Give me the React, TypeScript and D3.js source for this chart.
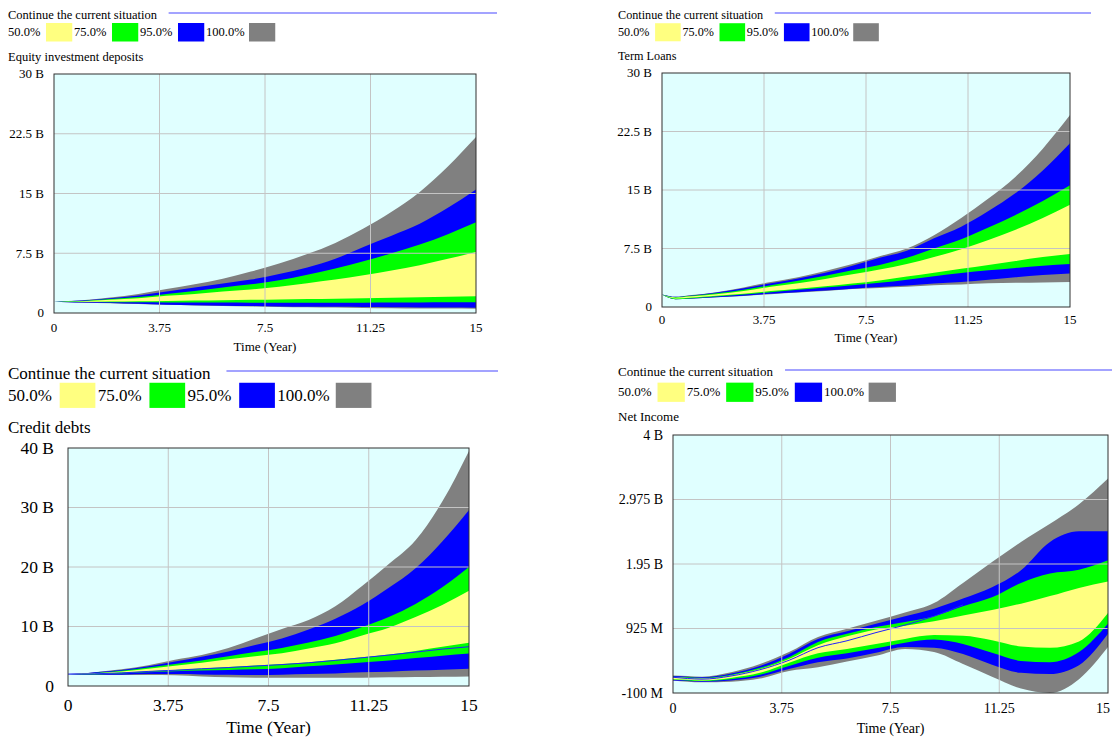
import React, { useEffect, useRef } from 'react';
import * as d3 from 'd3';

const width = 1112;
const height = 738;

const years = [0, 0.5, 1, 2, 3, 4, 5, 6, 7, 8, 9, 10, 11, 12, 13, 14, 15];
const xTicks = [0, 3.75, 7.5, 11.25, 15];
const scenarioName = "Continue the current situation";
const bandLabels = ["50.0%", "75.0%", "95.0%", "100.0%"];
const bandColors = ["#ffff80", "#00ff00", "#0000ff", "#808080"];

// Equity investment deposits (B)
const eqGrayHi = [1.4, 1.5, 1.6, 1.95, 2.4, 3.0, 3.6, 4.3, 5.2, 6.2, 7.4, 8.8, 10.6, 12.7, 15.2, 18.4, 22.1];
const eqBlueHi = [1.4, 1.48, 1.56, 1.85, 2.2, 2.7, 3.2, 3.7, 4.2, 4.9, 5.7, 6.8, 8.3, 9.7, 11.2, 13.2, 15.5];
const eqGreenHi = [1.4, 1.46, 1.52, 1.75, 2.0, 2.4, 2.75, 3.2, 3.6, 4.1, 4.8, 5.6, 6.5, 7.5, 8.6, 9.9, 11.4];
const eqYellowHi = [1.4, 1.44, 1.48, 1.65, 1.85, 2.15, 2.4, 2.7, 2.95, 3.3, 3.75, 4.2, 4.75, 5.35, 6.0, 6.8, 7.65];
const eqYellowLo = [1.4, 1.41, 1.42, 1.45, 1.48, 1.52, 1.56, 1.6, 1.65, 1.7, 1.75, 1.8, 1.85, 1.9, 1.97, 2.03, 2.1];
const eqGreenLo = [1.4, 1.39, 1.38, 1.36, 1.34, 1.33, 1.32, 1.31, 1.3, 1.3, 1.3, 1.3, 1.3, 1.31, 1.32, 1.34, 1.35];
const eqBlueLo = [1.4, 1.36, 1.32, 1.25, 1.15, 1.05, 0.98, 0.92, 0.87, 0.83, 0.8, 0.77, 0.74, 0.72, 0.7, 0.68, 0.66];
const eqGrayLo = [1.4, 1.35, 1.3, 1.22, 1.12, 1.02, 0.94, 0.88, 0.82, 0.76, 0.72, 0.68, 0.64, 0.6, 0.57, 0.55, 0.53];

// Term Loans (B)
const tlGrayHi = [1.6, 1.3, 1.5, 1.9, 2.5, 3.2, 3.8, 4.6, 5.5, 6.5, 7.5, 9.2, 11.4, 13.9, 16.7, 20.3, 24.6];
const tlBlueHi = [1.6, 1.3, 1.45, 1.85, 2.4, 3.05, 3.65, 4.4, 5.3, 6.3, 7.2, 8.8, 10.3, 12.3, 14.6, 17.5, 21.0];
const tlGreenHi = [1.6, 1.25, 1.4, 1.75, 2.2, 2.8, 3.35, 4.0, 4.7, 5.4, 6.3, 7.5, 8.7, 10.2, 11.8, 13.6, 15.6];
const tlYellowHi = [1.6, 1.2, 1.35, 1.65, 2.05, 2.6, 3.05, 3.6, 4.2, 4.8, 5.5, 6.4, 7.4, 8.6, 9.9, 11.4, 13.1];
const tlYellowLo = [1.6, 1.1, 1.2, 1.45, 1.7, 2.05, 2.35, 2.65, 3.0, 3.4, 3.9, 4.4, 4.9, 5.4, 5.9, 6.4, 6.8];
const tlGreenLo = [1.6, 1.0, 1.1, 1.35, 1.6, 1.9, 2.2, 2.5, 2.8, 3.1, 3.5, 3.95, 4.35, 4.7, 5.0, 5.3, 5.5];
const tlBlueLo = [1.6, 1.0, 1.05, 1.25, 1.45, 1.7, 1.9, 2.1, 2.35, 2.55, 2.75, 3.0, 3.2, 3.5, 3.8, 4.1, 4.3];
const tlGrayLo = [1.6, 1.0, 1.05, 1.25, 1.42, 1.65, 1.85, 2.05, 2.3, 2.45, 2.6, 2.8, 2.9, 3.05, 3.1, 3.15, 3.2];

// Credit debts (B)
const cdGrayHi = [2.0, 2.1, 2.3, 2.8, 3.5, 4.4, 5.2, 6.4, 8.0, 9.6, 11.1, 13.4, 16.8, 20.5, 24.5, 31.0, 39.5];
const cdBlueHi = [2.0, 2.1, 2.3, 2.7, 3.3, 4.1, 4.9, 5.8, 6.9, 8.0, 9.5, 11.3, 13.6, 16.5, 19.8, 24.3, 29.6];
const cdGreenHi = [2.0, 2.05, 2.2, 2.55, 3.1, 3.7, 4.3, 5.0, 5.7, 6.4, 7.3, 8.4, 9.9, 11.6, 13.8, 16.6, 20.0];
const cdYellowHi = [2.0, 2.05, 2.15, 2.45, 2.9, 3.4, 3.9, 4.5, 5.0, 5.5, 6.3, 7.2, 8.5, 9.8, 11.6, 13.6, 16.0];
const cdYellowLo = [2.0, 2.0, 2.05, 2.25, 2.5, 2.7, 2.95, 3.2, 3.45, 3.7, 4.0, 4.4, 4.85, 5.3, 5.9, 6.6, 7.25];
const cdGreenLo = [2.0, 1.95, 1.95, 2.1, 2.3, 2.5, 2.6, 2.7, 2.8, 3.0, 3.3, 3.6, 3.95, 4.3, 4.7, 5.1, 5.45];
const cdBlueLo = [2.0, 1.95, 1.9, 1.9, 2.0, 2.0, 1.95, 1.9, 1.85, 1.9, 2.0, 2.1, 2.3, 2.4, 2.6, 2.75, 2.9];
const cdGrayLo = [2.0, 1.95, 1.9, 1.85, 1.85, 1.8, 1.6, 1.45, 1.4, 1.4, 1.4, 1.4, 1.4, 1.45, 1.5, 1.55, 1.6];
const cdBase = [2.0, 2.0, 2.05, 2.2, 2.45, 2.65, 2.9, 3.1, 3.35, 3.6, 3.9, 4.3, 4.75, 5.2, 5.7, 6.2, 6.6];

// Net Income (B)
const niGrayHi = [0.18, 0.17, 0.16, 0.23, 0.36, 0.55, 0.79, 0.92, 1.05, 1.18, 1.33, 1.65, 1.98, 2.3, 2.59, 2.9, 3.31];
const niBlueHi = [0.17, 0.16, 0.15, 0.21, 0.33, 0.52, 0.76, 0.88, 1.0, 1.12, 1.24, 1.4, 1.58, 1.85, 2.3, 2.47, 2.47];
const niGreenHi = [0.16, 0.15, 0.14, 0.19, 0.3, 0.47, 0.71, 0.84, 0.95, 1.03, 1.12, 1.28, 1.42, 1.65, 1.8, 1.86, 2.01];
const niYellowHi = [0.15, 0.14, 0.13, 0.18, 0.28, 0.44, 0.66, 0.8, 0.91, 0.97, 1.04, 1.13, 1.22, 1.32, 1.44, 1.57, 1.67];
const niYellowLo = [0.12, 0.11, 0.1, 0.14, 0.22, 0.38, 0.53, 0.6, 0.68, 0.76, 0.82, 0.81, 0.74, 0.64, 0.62, 0.72, 1.17];
const niGreenLo = [0.11, 0.1, 0.09, 0.12, 0.19, 0.33, 0.46, 0.53, 0.61, 0.7, 0.75, 0.68, 0.54, 0.41, 0.39, 0.55, 1.0];
const niBlueLo = [0.1, 0.09, 0.08, 0.1, 0.16, 0.28, 0.39, 0.45, 0.54, 0.63, 0.62, 0.52, 0.35, 0.22, 0.2, 0.34, 0.84];
const niGrayLo = [0.1, 0.08, 0.07, 0.08, 0.13, 0.25, 0.31, 0.4, 0.49, 0.6, 0.55, 0.36, 0.16, -0.03, -0.1, 0.12, 0.63];
// base run is only visible up to year 10 (then it runs inside the blue band)
const niBase = [0.15, 0.13, 0.12, 0.17, 0.27, 0.42, 0.62, 0.73, 0.86, 0.98, 1.12, 1.3];

const bTicks = [0, 7.5, 15, 22.5, 30];
const bTickLabels = ["0", "7.5 B", "15 B", "22.5 B", "30 B"];
const cdTicks = [0, 10, 20, 30, 40];
const cdTickLabels = ["0", "10 B", "20 B", "30 B", "40 B"];
const niTicks = [-0.1, 0.925, 1.95, 2.975, 4];
const niTickLabels = ["-100 M", "925 M", "1.95 B", "2.975 B", "4 B"];

const panels = [
    {
        title: "Equity investment deposits", x0: 8, leg1: 15, leg2: 32, titleY: 57, lineEnd: 497,
        plot: {l: 54, r: 476, t: 74, b: 313}, xLab: 328, timeY: 347, tickFs: 13, legFs: 12.5,
        domain: [0, 30], ticks: bTicks, tickLabels: bTickLabels,
        bands: [[eqYellowLo, eqYellowHi], [eqGreenLo, eqGreenHi], [eqBlueLo, eqBlueHi], [eqGrayLo, eqGrayHi]],
        base: null
    },
    {
        title: "Term Loans", x0: 618, leg1: 15, leg2: 32, titleY: 55.5, lineEnd: 1091,
        plot: {l: 662, r: 1070, t: 73, b: 307}, xLab: 320, timeY: 338, tickFs: 13, legFs: 12.2,
        domain: [0, 30], ticks: bTicks, tickLabels: bTickLabels,
        bands: [[tlYellowLo, tlYellowHi], [tlGreenLo, tlGreenHi], [tlBlueLo, tlBlueHi], [tlGrayLo, tlGrayHi]],
        base: null
    },
    {
        title: "Credit debts", x0: 8, leg1: 373, leg2: 395, titleY: 427, lineEnd: 498,
        plot: {l: 68, r: 469, t: 448, b: 686}, xLab: 705, timeY: 727, tickFs: 17.5, legFs: 17,
        domain: [0, 40], ticks: cdTicks, tickLabels: cdTickLabels,
        bands: [[cdYellowLo, cdYellowHi], [cdGreenLo, cdGreenHi], [cdBlueLo, cdBlueHi], [cdGrayLo, cdGrayHi]],
        base: cdBase
    },
    {
        title: "Net Income", x0: 618, leg1: 372, leg2: 392, titleY: 417, lineEnd: 1112,
        plot: {l: 673, r: 1108, t: 435, b: 693}, xLab: 708, timeY: 728, tickFs: 14, legFs: 13,
        domain: [-0.1, 4], ticks: niTicks, tickLabels: niTickLabels,
        bands: [[niYellowLo, niYellowHi], [niGreenLo, niGreenHi], [niBlueLo, niBlueHi], [niGrayLo, niGrayHi]],
        base: niBase
    }
];

const App = () => {
    const ref = useRef(null);

    useEffect(() => {
        const svg = d3.select(ref.current);
        svg.selectAll("*").remove();

        panels.forEach((p, pi) => {
            const g = svg.append("g");
            const fs = p.legFs;
            const x = d3.scaleLinear().domain([0, 15]).range([p.plot.l, p.plot.r]);
            const y = d3.scaleLinear().domain(p.domain).range([p.plot.b, p.plot.t]);

            // legend
            g.append("text")
                .attr("x", p.x0).attr("y", p.leg1).attr("dy", "0.33em")
                .style("font-size", fs + "px")
                .text(scenarioName);
            g.append("line")
                .attr("x1", p.x0 + 12.85 * fs).attr("x2", p.lineEnd)
                .attr("y1", p.leg1 - 2).attr("y2", p.leg1 - 2)
                .attr("stroke", "#4848ff").attr("stroke-width", 1.2);

            let lx = p.x0;
            bandLabels.forEach((lab, i) => {
                g.append("text")
                    .attr("x", lx).attr("y", p.leg2).attr("dy", "0.33em")
                    .style("font-size", fs + "px")
                    .text(lab);
                const bx = lx + (lab.length > 5 ? 3.44 : 3.04) * fs;
                g.append("rect")
                    .attr("x", bx).attr("y", p.leg2 - 0.72 * fs)
                    .attr("width", 2.1 * fs).attr("height", 1.48 * fs)
                    .attr("fill", bandColors[i]);
                lx = bx + 2.1 * fs + 0.14 * fs;
            });

            g.append("text")
                .attr("x", p.x0).attr("y", p.titleY).attr("dy", "0.33em")
                .style("font-size", fs + "px")
                .text(p.title);

            // plot area
            g.append("rect")
                .attr("x", p.plot.l).attr("y", p.plot.t)
                .attr("width", p.plot.r - p.plot.l).attr("height", p.plot.b - p.plot.t)
                .attr("fill", "#e0ffff");

            const clipId = "clip" + pi;
            g.append("clipPath").attr("id", clipId)
                .append("rect")
                .attr("x", p.plot.l).attr("y", p.plot.t)
                .attr("width", p.plot.r - p.plot.l).attr("height", p.plot.b - p.plot.t);

            const inner = g.append("g").attr("clip-path", `url(#${clipId})`);

            for (let i = 3; i >= 0; i--) {
                const [lo, hi] = p.bands[i];
                const area = d3.area()
                    .x((d, k) => x(years[k]))
                    .y0((d, k) => y(lo[k]))
                    .y1((d, k) => y(hi[k]))
                    .curve(d3.curveMonotoneX);
                inner.append("path")
                    .datum(years)
                    .attr("d", area)
                    .attr("fill", bandColors[i]);
            }

            if (p.base) {
                const line = d3.line()
                    .x((d, k) => x(years[k]))
                    .y((d, k) => y(p.base[k]))
                    .curve(d3.curveMonotoneX);
                inner.append("path")
                    .datum(years.slice(0, p.base.length))
                    .attr("d", line)
                    .attr("fill", "none")
                    .attr("stroke", "#2020ff")
                    .attr("stroke-width", 1);
            }

            // grid
            inner.selectAll(".vgrid")
                .data(xTicks.slice(1, -1))
                .join("line")
                .attr("x1", d => x(d)).attr("x2", d => x(d))
                .attr("y1", p.plot.t).attr("y2", p.plot.b)
                .attr("stroke", "#c4c4c4").attr("stroke-width", 1);
            inner.selectAll(".hgrid")
                .data(p.ticks.slice(1, -1))
                .join("line")
                .attr("x1", p.plot.l).attr("x2", p.plot.r)
                .attr("y1", d => y(d)).attr("y2", d => y(d))
                .attr("stroke", "#c4c4c4").attr("stroke-width", 1);

            g.append("rect")
                .attr("x", p.plot.l).attr("y", p.plot.t)
                .attr("width", p.plot.r - p.plot.l).attr("height", p.plot.b - p.plot.t)
                .attr("fill", "none").attr("stroke", "#303030").attr("stroke-width", 1);

            // axis labels
            g.selectAll(".ylab")
                .data(p.ticks)
                .join("text")
                .attr("x", p.plot.l - (pi === 2 ? 14 : 10))
                .attr("y", d => y(d)).attr("dy", "0.33em")
                .attr("text-anchor", "end")
                .style("font-size", p.tickFs + "px")
                .text((d, i) => p.tickLabels[i]);

            // last label of the right-hand panels would run past the page edge
            g.selectAll(".xlab")
                .data(xTicks)
                .join("text")
                .attr("x", d => Math.min(x(d), width - 9)).attr("y", p.xLab).attr("dy", "0.33em")
                .attr("text-anchor", "middle")
                .style("font-size", p.tickFs + "px")
                .text(d => d);

            g.append("text")
                .attr("x", (p.plot.l + p.plot.r) / 2).attr("y", p.timeY).attr("dy", "0.33em")
                .attr("text-anchor", "middle")
                .style("font-size", p.tickFs + "px")
                .text("Time (Year)");
        });
    }, []);

    return (
        <svg ref={ref} width={width} height={height}
            style={{position: "absolute", left: 0, top: 0, background: "#fff",
                fontFamily: "'Liberation Serif', 'Times New Roman', serif"}}>
        </svg>
    );
};

export default App;
